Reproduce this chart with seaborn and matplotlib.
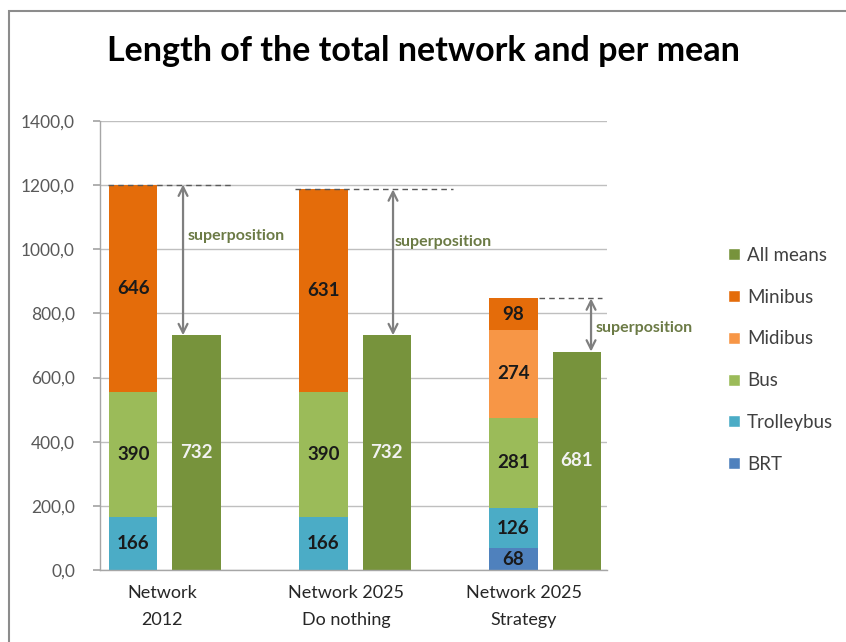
import matplotlib
matplotlib.use("Agg")
import matplotlib.pyplot as plt
from matplotlib.patches import Rectangle, Patch
from matplotlib.ticker import FuncFormatter
import numpy as np
import pandas as pd
import seaborn as sns

# Network scenarios and network length (km) per transport mean
scenarios = ["Network\n2012", "Network 2025\nDo nothing", "Network 2025\nStrategy"]
brt = [0, 0, 68]
trolleybus = [166, 166, 126]
bus = [390, 390, 281]
midibus = [0, 0, 274]
minibus = [646, 631, 98]
all_means = [732, 732, 681]

layers = [
    ("BRT", brt, "#4F81BD"),
    ("Trolleybus", trolleybus, "#4BACC6"),
    ("Bus", bus, "#9BBB59"),
    ("Midibus", midibus, "#F79646"),
    ("Minibus", minibus, "#E46C0A"),
]
all_color = "#77933C"

sns.set_theme(style="white")
plt.rcParams["font.family"] = ["Lato", "DejaVu Sans"]

fig = plt.figure(figsize=(8.46, 6.42), dpi=100)
ax = fig.add_axes([0.1182, 0.1121, 0.5993, 0.6994])

groups = np.arange(len(scenarios))
offset = 0.166
stack_x = groups - offset
all_x = groups + offset
bar_w = 0.253  # bars sit one unit apart within each call

# stacked bars: draw cumulative totals from top layer down so each shows its own segment
cum = np.zeros(len(scenarios))
cums = []
for name, vals, col in layers:
    bottom = cum.copy()
    cum = cum + np.array(vals)
    cums.append((name, vals, col, bottom, cum.copy()))

for name, vals, col, bottom, top in reversed(cums):
    df = pd.DataFrame({"x": stack_x, "y": top})
    sns.barplot(data=df, x="x", y="y", native_scale=True, color=col,
                saturation=1, width=bar_w, ax=ax, errorbar=None, linewidth=0)

df_all = pd.DataFrame({"x": all_x, "y": all_means})
sns.barplot(data=df_all, x="x", y="y", native_scale=True, color=all_color,
            saturation=1, width=bar_w, ax=ax, errorbar=None, linewidth=0)

# value labels
for name, vals, col, bottom, top in cums:
    for i, v in enumerate(vals):
        if v > 0:
            ax.text(stack_x[i], bottom[i] + v / 2, f"{v}", ha="center", va="center",
                    fontsize=13.5, fontweight="bold", color="#1a1a1a")
for i, v in enumerate(all_means):
    ax.text(all_x[i], v / 2, f"{v}", ha="center", va="center",
            fontsize=13.5, fontweight="bold", color="#f2f2f2")

# total length vs. all means: dashed reference and double arrow
totals = cum
dash_ranges = [(-0.30, 0.36), (0.684, 1.516), (1.968, 2.30)]
arrow_x = [0.095, 1.20, 2.242]
text_pos = [(0.121, 1041), (1.21, 1023), (2.268, 755)]
for i in range(len(scenarios)):
    x0, x1 = dash_ranges[i]
    ax.hlines(totals[i], x0, x1, colors="#595959", linestyles=(0, (4, 3)), lw=1.0, zorder=5)
    ax.annotate("", xy=(arrow_x[i], all_means[i]), xytext=(arrow_x[i], totals[i]),
                arrowprops=dict(arrowstyle="<->", color="#7f7f7f", lw=1.6,
                                mutation_scale=16, shrinkA=0, shrinkB=0),
                zorder=6)
    tx, ty = text_pos[i]
    ax.text(tx, ty, "superposition", ha="left", va="center", fontsize=11.5,
            fontweight="bold", color="#6b7a45", clip_on=False)

ax.set_xlim(-0.342, 2.326)
ax.set_ylim(0, 1400)
ax.set_yticks(np.arange(0, 1401, 200))
ax.yaxis.set_major_formatter(FuncFormatter(lambda v, p: f"{v:.1f}".replace(".", ",")))
# category captions sit slightly left of their bar pairs
ax.set_xticks([-0.016, 0.953, 1.889])
ax.set_xticklabels(scenarios, fontsize=13, color="#262626", linespacing=1.85)
ax.set_xlabel("")
ax.set_ylabel("")
ax.tick_params(axis="y", labelsize=12.5, labelcolor="#595959", left=True, length=5,
               color="#a6a6a6", pad=13)
ax.tick_params(axis="x", length=0, pad=11)
ax.grid(axis="y", color="#bfbfbf", lw=1)
ax.set_axisbelow(True)
for s in ["top", "right"]:
    ax.spines[s].set_visible(False)
for s in ["left", "bottom"]:
    ax.spines[s].set_color("#a6a6a6")
    ax.spines[s].set_linewidth(1)

handles = [Patch(facecolor=all_color, label="All means")]
for name, vals, col in reversed(layers):
    handles.append(Patch(facecolor=col, label=name))
fig.legend(handles=handles, loc="upper left", bbox_to_anchor=(0.852, 0.627),
           frameon=False, fontsize=13.5, labelcolor="#404040", handlelength=0.6,
           handleheight=0.6, handletextpad=0.4, labelspacing=1.32, borderaxespad=0)

fig.suptitle("Length of the total network and per mean", x=0.5, y=0.945,
             fontsize=24.5, fontweight="bold", color="#000000")

# chart frame
fig.patches.append(Rectangle((9 / 846, -0.1), 2, 0.983 + 0.1, transform=fig.transFigure,
                             fill=False, edgecolor="#8c8c8c", lw=1.5, clip_on=False))

fig.savefig("out.png", dpi=100)
